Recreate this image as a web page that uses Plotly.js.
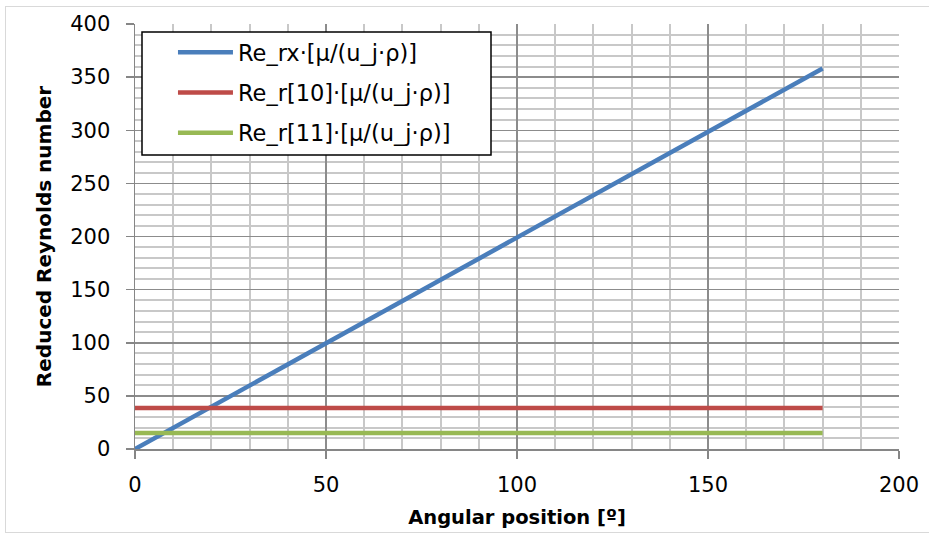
<!DOCTYPE html>
<html>
<head>
<meta charset="utf-8">
<script src="https://cdn.plot.ly/plotly-3.0.1.min.js"></script>
<style>
  html, body { margin: 0; padding: 0; background: #ffffff; }
  #wrap { position: relative; width: 929px; height: 535px; }
  #chart { width: 929px; height: 535px; }
  #frame { position: absolute; left: 5px; top: 6px; width: 930px; height: 527px;
           border: 1px solid #d9d9d9; pointer-events: none; box-sizing: border-box; }
</style>
</head>
<body>
<div id="wrap">
  <div id="chart"></div>
  <div id="frame"></div>
</div>
<script>
// Data
const angle = [0, 20, 40, 60, 80, 100, 120, 140, 160, 180];
const reRx  = [0, 39.8, 79.6, 119.4, 159.2, 199, 238.8, 278.6, 318.4, 358.2];
const reR10 = [38.5, 38.5, 38.5, 38.5, 38.5, 38.5, 38.5, 38.5, 38.5, 38.5];
const reR11 = [15, 15, 15, 15, 15, 15, 15, 15, 15, 15];
const seriesNames = ['Re_rx·[μ/(u_j·ρ)]', 'Re_r[10]·[μ/(u_j·ρ)]', 'Re_r[11]·[μ/(u_j·ρ)]'];
const seriesColors = ['#4a7ebb', '#be4b48', '#98b954'];
const xTitle = 'Angular position [º]';
const yTitle = 'Reduced Reynolds number';

const font = '"DejaVu Sans", "Open Sans", sans-serif';
const ys = [reRx, reR10, reR11];
const traces = ys.map((y, i) => ({
  x: angle, y: y, type: 'scatter', mode: 'lines', name: seriesNames[i],
  legendgroup: 'g' + i,
  line: { color: seriesColors[i], width: 4.5 }
}));

const axisCommon = {
  showline: true, linecolor: '#868686', linewidth: 1.5,
  showgrid: true, gridcolor: '#8c8c8c', gridwidth: 1.5,
  ticks: 'outside', ticklen: 8, tickwidth: 1.5, tickcolor: '#868686',
  zeroline: false, mirror: false,
  tickfont: { family: font, size: 21, color: '#000000' },
  minor: { dtick: 10, showgrid: true, gridcolor: '#c8c8c8', gridwidth: 2, ticks: '' }
};

const layout = {
  width: 929, height: 535,
  margin: { l: 135, r: 30, t: 24, b: 86 },
  paper_bgcolor: '#ffffff', plot_bgcolor: '#ffffff',
  showlegend: true,
  xaxis: Object.assign({}, axisCommon, {
    range: [0, 200], dtick: 50, tick0: 0,
    ticklabelstandoff: 8,
    title: { text: xTitle, font: { family: font, size: 19.5, color: '#000000', weight: 'bold' }, standoff: 14 }
  }),
  yaxis: Object.assign({}, axisCommon, {
    range: [0, 400], dtick: 50, tick0: 0,
    ticklabelstandoff: 11,
    title: { text: yTitle, font: { family: font, size: 20, color: '#000000', weight: 'bold' }, standoff: 13 }
  }),
  shapes: [{
    type: 'rect', xref: 'paper', yref: 'paper', layer: 'above',
    x0: 0.00916, x1: 0.46597, y0: 0.69176, y1: 0.98118,
    fillcolor: '#ffffff', line: { color: '#000000', width: 1.5 }
  }],
  legend: {
    x: 0.0497, y: 0.9835, xanchor: 'left', yanchor: 'top',
    bgcolor: 'rgba(0,0,0,0)', borderwidth: 0,
    font: { family: font, size: 22.5, color: '#000000' },
    traceorder: 'grouped', tracegroupgap: 8, itemwidth: 55
  }
};

Plotly.newPlot('chart', traces, layout, { displayModeBar: false, staticPlot: true });
</script>
</body>
</html>
